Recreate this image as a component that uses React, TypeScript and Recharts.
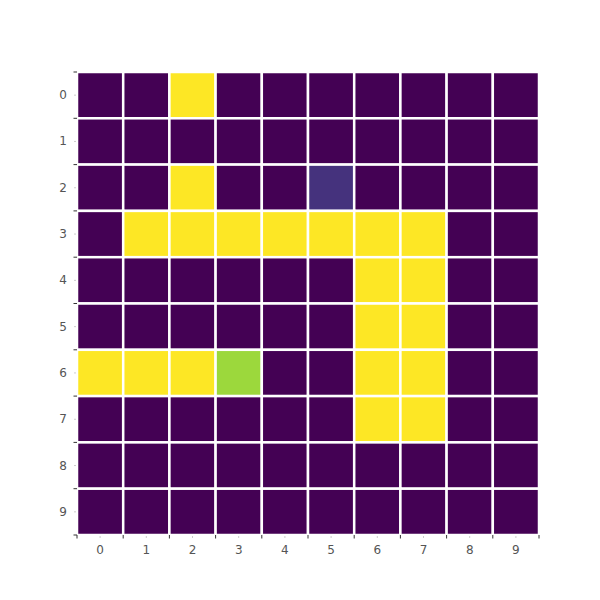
import { ScatterChart, Scatter, XAxis, YAxis } from "recharts";

// heatmap values, one array per row (row 0 on top)
const row0 = [0, 0, 1, 0, 0, 0, 0, 0, 0, 0];
const row1 = [0, 0, 0, 0, 0, 0, 0, 0, 0, 0];
const row2 = [0, 0, 1, 0, 0, 0.13, 0, 0, 0, 0];
const row3 = [0, 1, 1, 1, 1, 1, 1, 1, 0, 0];
const row4 = [0, 0, 0, 0, 0, 0, 1, 1, 0, 0];
const row5 = [0, 0, 0, 0, 0, 0, 1, 1, 0, 0];
const row6 = [1, 1, 1, 0.85, 0, 0, 1, 1, 0, 0];
const row7 = [0, 0, 0, 0, 0, 0, 1, 1, 0, 0];
const row8 = [0, 0, 0, 0, 0, 0, 0, 0, 0, 0];
const row9 = [0, 0, 0, 0, 0, 0, 0, 0, 0, 0];

const rows = [row0, row1, row2, row3, row4, row5, row6, row7, row8, row9];
const xLabels = ["0", "1", "2", "3", "4", "5", "6", "7", "8", "9"];
const yLabels = ["0", "1", "2", "3", "4", "5", "6", "7", "8", "9"];

const viridis = [
  "#440154", "#482878", "#3e4989", "#31688e", "#26828e", "#21918c",
  "#1fa187", "#44bf70", "#7ad151", "#bddf26", "#fde725",
];

const hexToRgb = (h: string) => [1, 3, 5].map((i) => parseInt(h.slice(i, i + 2), 16));

const colorFor = (v: number) => {
  const t = Math.max(0, Math.min(1, v)) * 10;
  const i = Math.min(9, Math.floor(t));
  const f = t - i;
  const a = hexToRgb(viridis[i]);
  const b = hexToRgb(viridis[i + 1]);
  const c = a.map((ch, k) => Math.round(ch + (b[k] - ch) * f));
  return `rgb(${c[0]},${c[1]},${c[2]})`;
};

const cells = rows.flatMap((r, y) => r.map((v, x) => ({ x: x + 0.5, y: y + 0.5, v })));

const ticks = Array.from({ length: 21 }, (_, i) => i / 2);

const W = 600;
const H = 600;
const margin = { top: 72, right: 61, bottom: 0, left: 0 };
const yAxisW = 77;
const xAxisH = 65;
const cellW = (W - margin.left - margin.right - yAxisW) / 10;
const cellH = (H - margin.top - margin.bottom - xAxisH) / 10;

const font = "DejaVu Sans";

const XTick = ({ x, y, payload }: any) => {
  const v = payload.value;
  if (Number.isInteger(v)) {
    return <line x1={x} x2={x} y1={y} y2={y + 3.5} stroke="#333" strokeWidth={1} />;
  }
  return (
    <g>
      <line x1={x} x2={x} y1={y + 1} y2={y + 3} stroke="#ccc" strokeWidth={1} />
      <text x={x} y={y + 15} textAnchor="middle" dominantBaseline="central" fontSize={12} fontFamily={font} fill="#555">
        {xLabels[Math.floor(v)]}
      </text>
    </g>
  );
};

const YTick = ({ x, y, payload }: any) => {
  const v = payload.value;
  if (Number.isInteger(v)) {
    return <line x1={x - 3.5} x2={x} y1={y} y2={y} stroke="#333" strokeWidth={1} />;
  }
  return (
    <g>
      <line x1={x - 3} x2={x - 1} y1={y} y2={y} stroke="#ccc" strokeWidth={1} />
      <text x={x - 14} y={y} textAnchor="middle" dominantBaseline="central" fontSize={12} fontFamily={font} fill="#555">
        {yLabels[Math.floor(v)]}
      </text>
    </g>
  );
};

const Cell = (props: any) => {
  const { cx, cy, payload } = props;
  return (
    <rect
      x={cx - cellW / 2}
      y={cy - cellH / 2}
      width={cellW}
      height={cellH}
      fill={colorFor(payload.v)}
      stroke="#fff"
      strokeWidth={2.5}
    />
  );
};

const App = () => {
  return (
    <div style={{ position: "absolute", left: 0, top: 0, background: "#fff" }}>
      <ScatterChart width={W} height={H} margin={margin}>
        <XAxis
          type="number"
          dataKey="x"
          domain={[0, 10]}
          ticks={ticks}
          interval={0}
          axisLine={false}
          tickLine={false}
          tickSize={0}
          tickMargin={0}
          height={xAxisH}
          tick={<XTick />}
        />
        <YAxis
          type="number"
          dataKey="y"
          domain={[0, 10]}
          reversed
          ticks={ticks}
          interval={0}
          axisLine={false}
          tickLine={false}
          tickSize={0}
          tickMargin={0}
          width={yAxisW}
          tick={<YTick />}
        />
        <Scatter data={cells} shape={<Cell />} isAnimationActive={false} />
      </ScatterChart>
    </div>
  );
};

export default App;
